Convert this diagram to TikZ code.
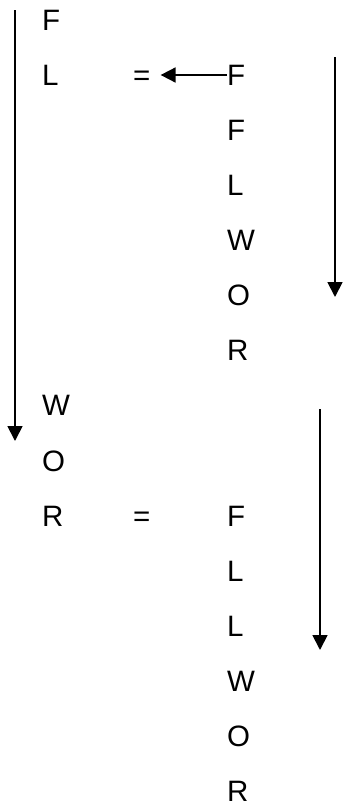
\documentclass[tikz,border=0pt]{standalone}
\usepackage{fontspec}
\setmainfont{Liberation Sans}
\usetikzlibrary{arrows.meta}
\begin{document}
\begin{tikzpicture}[x=1pt,y=-1pt,
  lbl/.style={anchor=base west,inner sep=0pt,font=\fontsize{29.5}{29.5}\selectfont},
  arr/.style={line width=1.8pt,-{Triangle[width=15pt,length=15pt]}}]
\useasboundingbox (0,0) rectangle (344,809);
\def\rowy#1{\fpeval{20+#1*55.07+10.5}}
% left column
\node[lbl] (l0) at (42,{\rowy{0}}) {F};
\node[lbl] (l1) at (42,{\rowy{1}}) {L};
\node[lbl] (l7) at (42,{\rowy{7}}) {W};
\node[lbl] (l8) at (42,{\rowy{8}}) {O};
\node[lbl] (l9) at (42,{\rowy{9}}) {R};
% equals
\node[lbl] (e1) at (133,{\rowy{1}}) {=};
\node[lbl] (e9) at (133,{\rowy{9}}) {=};
% right column
\node[lbl] (r1) at (227,{\rowy{1}}) {F};
\node[lbl] (r2) at (227,{\rowy{2}}) {F};
\node[lbl] (r3) at (227,{\rowy{3}}) {L};
\node[lbl] (r4) at (227,{\rowy{4}}) {W};
\node[lbl] (r5) at (227,{\rowy{5}}) {O};
\node[lbl] (r6) at (227,{\rowy{6}}) {R};
\node[lbl] (r9) at (227,{\rowy{9}}) {F};
\node[lbl] (r10) at (227,{\rowy{10}}) {L};
\node[lbl] (r11) at (227,{\rowy{11}}) {L};
\node[lbl] (r12) at (227,{\rowy{12}}) {W};
\node[lbl] (r13) at (227,{\rowy{13}}) {O};
\node[lbl] (r14) at (227,{\rowy{14}}) {R};
% vertical arrows
\coordinate (a1s) at (15,10);
\coordinate (a1e) at (15,441);
\coordinate (a2s) at (335,57);
\coordinate (a2e) at (335,297);
\coordinate (a3s) at (320,409);
\coordinate (a3e) at (320,650);
\draw[arr] (a1s) -- (a1e);
\draw[arr] (a2s) -- (a2e);
\draw[arr] (a3s) -- (a3e);
% horizontal arrow
\coordinate (h1) at (e1.east |- 0,75);
\draw[arr] (r1.west |- h1) -- ([xshift=10pt]h1);
\end{tikzpicture}
\end{document}
